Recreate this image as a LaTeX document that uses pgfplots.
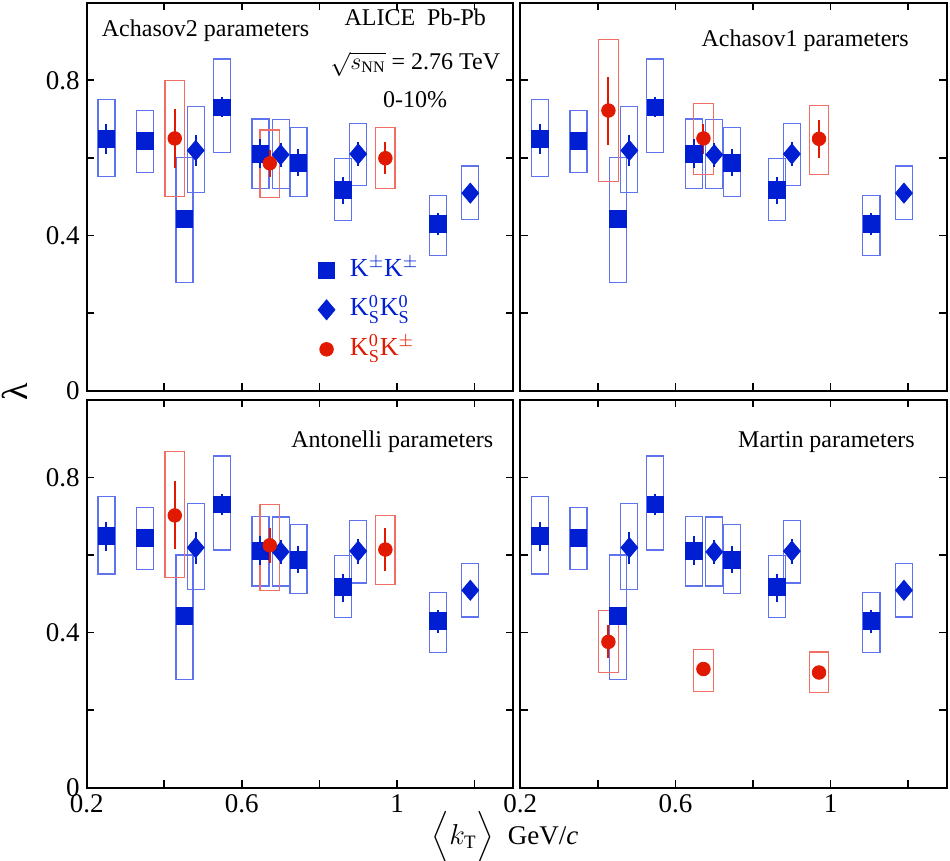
\documentclass[border=0pt]{standalone}
\usepackage{fontspec}
\setmainfont{Liberation Serif}
\usepackage{amsmath}
\usepackage{pgfplots}
\usepackage{pgfplotstable}
\pgfplotsset{compat=1.18}
\usepgfplotslibrary{groupplots}

\definecolor{mblue}{RGB}{0,30,210}
\definecolor{mred}{RGB}{225,25,0}
\definecolor{bblue}{RGB}{95,115,240}
\definecolor{bred}{RGB}{240,110,100}

% x  y  stat-low stat-high sys-low sys-high
\pgfplotstableread{
x y stlo sthi sylo syhi
0.251 0.649 0.611 0.686 0.551 0.750
0.350 0.644 0.630 0.658 0.563 0.723
0.452 0.443 0.430 0.460 0.279 0.600
0.548 0.730 0.704 0.756 0.613 0.855
0.648 0.610 0.575 0.649 0.520 0.700
0.746 0.587 0.554 0.623 0.500 0.678
0.861 0.517 0.480 0.550 0.438 0.599
1.105 0.430 0.400 0.458 0.348 0.503
}\tabKK
\pgfplotstableread{
x y stlo sthi sylo syhi
0.481 0.619 0.578 0.660 0.510 0.732
0.700 0.608 0.576 0.639 0.520 0.698
0.900 0.610 0.578 0.642 0.528 0.689
1.189 0.509 0.500 0.518 0.440 0.579
}\tabKsKs
\pgfplotstableread{
x y stlo sthi sylo syhi
0.427 0.650 0.575 0.726 0.500 0.799
0.672 0.586 0.550 0.621 0.498 0.672
0.970 0.599 0.558 0.640 0.521 0.678
}\tabRedAchTwo
\pgfplotstableread{
x y stlo sthi sylo syhi
0.427 0.722 0.633 0.809 0.539 0.906
0.672 0.650 0.610 0.687 0.556 0.740
0.970 0.649 0.599 0.698 0.558 0.735
}\tabRedAchOne
\pgfplotstableread{
x y stlo sthi sylo syhi
0.427 0.702 0.616 0.790 0.541 0.867
0.672 0.625 0.579 0.669 0.508 0.730
0.970 0.614 0.558 0.669 0.524 0.702
}\tabRedAnt
\pgfplotstableread{
x y stlo sthi sylo syhi
0.427 0.376 0.335 0.419 0.296 0.457
0.672 0.306 0.292 0.320 0.249 0.356
0.970 0.297 0.284 0.310 0.245 0.350
}\tabRedMar

% systematic boxes: #1 table, #2 half width, #3 colour
\pgfplotsset{
 boxedge/.style={forget plot, draw=none, mark=none},
}
\newcommand{\sysbox}[3]{%
 \addplot[boxedge, error bars/.cd, y dir=both, y explicit, error mark=none,
   error bar style={draw=#3, line width=0.6pt, line cap=rect}]
   table[x expr=\thisrow{x}-#2, y expr=0.5*(\thisrow{sylo}+\thisrow{syhi}), y error expr=0.5*(\thisrow{syhi}-\thisrow{sylo})] {#1};
 \addplot[boxedge, error bars/.cd, y dir=both, y explicit, error mark=none,
   error bar style={draw=#3, line width=0.6pt, line cap=rect}]
   table[x expr=\thisrow{x}+#2, y expr=0.5*(\thisrow{sylo}+\thisrow{syhi}), y error expr=0.5*(\thisrow{syhi}-\thisrow{sylo})] {#1};
 \addplot[boxedge, error bars/.cd, x dir=both, x fixed=#2, error mark=none,
   error bar style={draw=#3, line width=0.6pt, line cap=rect}]
   table[x=x, y=sylo] {#1};
 \addplot[boxedge, error bars/.cd, x dir=both, x fixed=#2, error mark=none,
   error bar style={draw=#3, line width=0.6pt, line cap=rect}]
   table[x=x, y=syhi] {#1};
}
% points with statistical errors: #1 table, #2 mark style, #3 colour
\newcommand{\statpts}[3]{%
 \addplot[forget plot, only marks, #2, error bars/.cd, y dir=both, y explicit, error mark=none,
   error bar style={draw=#3, line width=1pt}]
   table[x=x, y=y, y error plus expr=\thisrow{sthi}-\thisrow{y}, y error minus expr=\thisrow{y}-\thisrow{stlo}] {#1};
}
\pgfplotsset{
 sqstyle/.style={mark=square*, mark size=4.15pt, color=mblue, mark options={solid, fill=mblue}},
 distyle/.style={mark=diamond*, mark size=5pt, color=mblue, mark options={solid, fill=mblue, xscale=1.12}},
 cistyle/.style={mark=*, mark size=3.4pt, color=mred, mark options={solid, fill=mred}},
}
\newcommand{\bluedata}{%
 \sysbox{\tabKK}{0.022}{bblue}
 \sysbox{\tabKsKs}{0.022}{bblue}
}
\newcommand{\bluepts}{%
 \statpts{\tabKK}{sqstyle}{mblue}
 \statpts{\tabKsKs}{distyle}{mblue}
}

\begin{document}
\begin{tikzpicture}
\begin{groupplot}[
 group style={group size=2 by 2, horizontal sep=3.5pt, vertical sep=4.65pt,
   xticklabels at=edge bottom, yticklabels at=edge left},
 scale only axis, width=213.3pt, height=193.9pt,
 xmin=0.2, xmax=1.3, ymin=0, ymax=1,
 xtick={0.2,0.4,0.6,0.8,1.0,1.2}, xticklabels={0.2,,0.6,,1,},
 ytick={0,0.2,0.4,0.6,0.8}, yticklabels={0,,0.4,,0.8},
 tick align=inside, major tick length=3.8pt,
 axis line style={line width=1pt},
 every tick/.style={black, line width=0.8pt},
 ticklabel style={font=\fontsize{13.5}{15}\selectfont},
 /pgf/number format/assume math mode=true,
 clip=false,
]
\nextgroupplot[
 legend style={draw=none, fill=none, at={(0.5275,0.36)}, anchor=north west,
   font=\fontsize{13}{15}\selectfont, row sep=4.75pt,
   nodes={text height=9pt, text depth=3pt, inner sep=1.5pt},
   /tikz/every odd column/.append style={column sep=6pt}},
 legend cell align=left]
\coordinate (TL) at (rel axis cs:0,1);
\addlegendimage{only marks, sqstyle}
\addlegendentry{\textcolor{mblue}{K$^\pm$K$^\pm$}}
\addlegendimage{only marks, distyle}
\addlegendentry{\textcolor{mblue}{K$^{\text{0}}_{\text{S}}$K$^{\text{0}}_{\text{S}}$}}
\addlegendimage{only marks, cistyle}
\addlegendentry{\textcolor{mred}{K$^{\text{0}}_{\text{S}}$K$^\pm$}}
\bluedata
\sysbox{\tabRedAchTwo}{0.025}{bred}
\bluepts
\statpts{\tabRedAchTwo}{cistyle}{mred}
\node[anchor=west, font=\fontsize{12}{14}\selectfont] at (rel axis cs:0.019,0.927) {Achasov2 parameters};
\node[anchor=base, font=\fontsize{12}{14}\selectfont] at (rel axis cs:0.770,0.940) {ALICE\ \ Pb-Pb};
\node[anchor=base, font=\fontsize{12}{14}\selectfont] at (rel axis cs:0.770,0.829) {$\sqrt{s_{\mathrm{NN}}}$ = 2.76 TeV};
\node[anchor=base, font=\fontsize{12}{14}\selectfont] at (rel axis cs:0.770,0.731) {0-10\%};

\nextgroupplot
\bluedata
\sysbox{\tabRedAchOne}{0.025}{bred}
\bluepts
\statpts{\tabRedAchOne}{cistyle}{mred}
\node[anchor=east, font=\fontsize{12}{14}\selectfont] at (rel axis cs:0.927,0.901) {Achasov1 parameters};

\nextgroupplot
\bluedata
\sysbox{\tabRedAnt}{0.025}{bred}
\bluepts
\statpts{\tabRedAnt}{cistyle}{mred}
\node[anchor=east, font=\fontsize{12}{14}\selectfont] at (rel axis cs:0.9695,0.892) {Antonelli parameters};

\nextgroupplot
\coordinate (BR) at (rel axis cs:1,0);
\bluedata
\sysbox{\tabRedMar}{0.025}{bred}
\bluepts
\statpts{\tabRedMar}{cistyle}{mred}
\node[anchor=east, font=\fontsize{12}{14}\selectfont] at (rel axis cs:0.941,0.892) {Martin parameters};
\end{groupplot}
\path (TL) ++(-43.35pt,1.35pt) coordinate (FTL);
\path (BR) ++(1.5pt,-36.65pt) coordinate (FBR);
\path[use as bounding box] (FTL) rectangle (FBR);
\node[rotate=90, font=\fontsize{18}{20}\selectfont] at ([xshift=7.5pt,yshift=-196pt]FTL) {λ};
\node[font=\fontsize{13.5}{15}\selectfont] at ([xshift=252.5pt,yshift=-418.5pt]FTL) {$\Big\langle k_{\mathrm{T}}\Big\rangle$~~GeV/\textit{c}};
\end{tikzpicture}
\end{document}
